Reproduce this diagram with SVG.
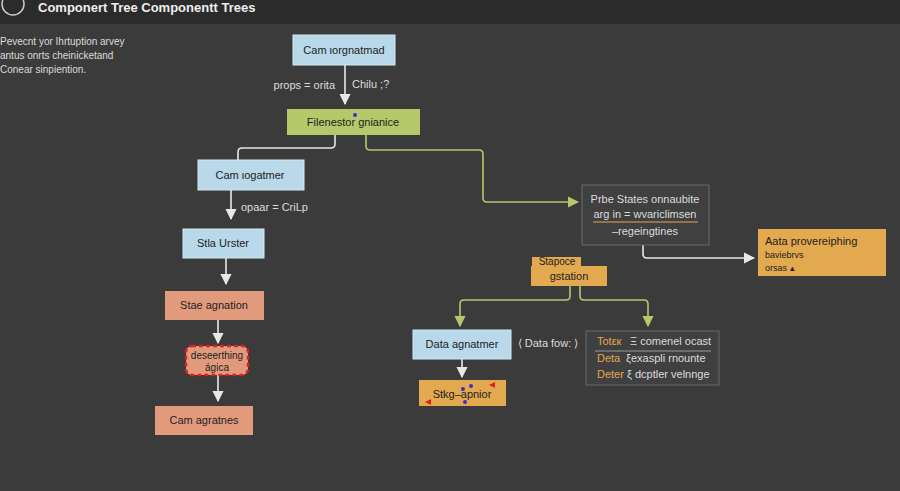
<svg xmlns="http://www.w3.org/2000/svg" width="900" height="491" viewBox="0 0 900 491">
<defs>
<marker id="aw" viewBox="0 0 10 10" refX="9" refY="5" markerWidth="7" markerHeight="7" orient="auto-start-reverse"><path d="M0,0 L10,5 L0,10 z" fill="#e8e8e8"/></marker>
<marker id="ag" viewBox="0 0 10 10" refX="9" refY="5" markerWidth="7" markerHeight="7" orient="auto-start-reverse"><path d="M0,0 L10,5 L0,10 z" fill="#b5c96a"/></marker>
<style>
text{font-family:"Liberation Sans",Arial,sans-serif;font-size:11px;fill:#222}
.lt{fill:#dcdcdc}
.blue{fill:#b9d9ea;stroke:#d6e8f2;stroke-width:1}
.sal{fill:#e29a7c}
.org{fill:#e3a94f}
.w{fill:none;stroke:#e8e8e8;stroke-width:1.6}
.g{fill:none;stroke:#b5c96a;stroke-width:1.6}
</style>
</defs>
<rect width="900" height="491" fill="#3b3b3b"/>
<rect width="900" height="24" fill="#2b2b2b"/>
<circle cx="13" cy="4" r="11" fill="none" stroke="#ccc" stroke-width="1.5"/>
<text x="38" y="12" style="font-size:13px;font-weight:bold;fill:#eee">Componert Tree Componentt Trees</text>
<text class="lt" x="0" y="45" style="font-size:10px">Pevecnt yor Ihrtuption arvey</text>
<text class="lt" x="0" y="59" style="font-size:10px">antus onrts cheinicketand</text>
<text class="lt" x="0" y="73" style="font-size:10px">Conear sinpiention.</text>
<g id="connectors">
<path class="w" d="M345,65 V104" marker-end="url(#aw)"/>
<path class="w" d="M335,135 V144 q0,4 -4,4 H242 q-4,0 -4,4 V160"/>
<path class="g" d="M366,135 V146 q0,4 4,4 H479 q4,0 4,4 V198 q0,4 4,4 H578" marker-end="url(#ag)"/>
<path class="w" d="M231,190 V219" marker-end="url(#aw)"/>
<path class="w" d="M226,258 V284" marker-end="url(#aw)"/>
<path class="w" d="M218,320 V343" marker-end="url(#aw)"/>
<path class="w" d="M218,375 V401" marker-end="url(#aw)"/>
<path class="w" d="M643,245 V254 q0,4 4,4 H754" marker-end="url(#aw)"/>
<path class="g" d="M570,286 V296 q0,4 -4,4 H464 q-4,0 -4,4 V326" marker-end="url(#ag)"/>
<path class="g" d="M580,286 V296 q0,4 4,4 H644 q4,0 4,4 V326" marker-end="url(#ag)"/>
<path class="w" d="M462,359 V377" marker-end="url(#aw)"/>
</g>
<text class="lt" x="335" y="89" text-anchor="end">props = orita</text>
<text class="lt" x="352" y="88">Chilu ;?</text>
<text class="lt" x="241" y="211">opaar = CriLp</text>
<g id="n1"><rect class="blue" x="293" y="35" width="102" height="30"/><text x="344" y="54" text-anchor="middle">Cam ιorgnatmad</text></g>
<g id="n2"><rect x="287" y="109" width="133" height="26" fill="#b5c96a"/><circle cx="355" cy="115" r="2" fill="#3333cc"/><text x="353" y="126" text-anchor="middle">Filenestor gnianice</text></g>
<g id="n3"><rect class="blue" x="198" y="160" width="106" height="30"/><text x="250" y="179" text-anchor="middle">Cam ιogatmer</text></g>
<g id="n4"><rect class="blue" x="183" y="229" width="81" height="29"/><text x="223" y="247" text-anchor="middle">Stla Urster</text></g>
<g id="n5"><rect class="sal" x="165" y="291" width="99" height="29"/><text x="214" y="309" text-anchor="middle">Stae agnation</text></g>
<g id="n6"><rect class="sal" x="186" y="346" width="62" height="29" rx="6" stroke="#e02020" stroke-width="2.5" stroke-dasharray="4,3"/><text x="217" y="359" text-anchor="middle" style="font-size:10px">deseerthing</text><text x="217" y="371" text-anchor="middle" style="font-size:10px">ágica</text></g>
<g id="n7"><rect class="sal" x="155" y="406" width="98" height="29"/><text x="204" y="424" text-anchor="middle">Cam agratnes</text></g>
<g id="n8"><rect x="582" y="185" width="127" height="60" fill="#404040" stroke="#6a6a6a"/><text class="lt" x="645" y="203" text-anchor="middle">Prbe States onnaubite</text><text class="lt" x="645" y="218" text-anchor="middle">arg in = wvariclimsen</text><line x1="593" y1="222" x2="698" y2="222" stroke="#e3a94f"/><text class="lt" x="645" y="235" text-anchor="middle">–regeingtines</text></g>
<g id="n9"><rect class="org" x="758" y="229" width="128" height="47"/><text x="765" y="245">Aata provereiphing</text><text x="765" y="258" style="font-size:9px">baviebrvs</text><text x="765" y="271" style="font-size:9px">orsas ▴</text></g>
<g id="n10"><rect class="org" x="532" y="257" width="49" height="10"/><rect class="org" x="531" y="266" width="76" height="20"/><text x="557" y="265" text-anchor="middle" style="font-size:10px">Stapoce</text><text x="569" y="280" text-anchor="middle">gstation</text></g>
<g id="n11"><rect class="blue" x="413" y="330" width="98" height="29"/><text x="462" y="348" text-anchor="middle">Data agnatmer</text></g>
<text class="lt" x="548" y="347" text-anchor="middle">⟨ Data fow: ⟩</text>
<g id="n12"><rect x="586" y="331" width="133" height="54" fill="#404040" stroke="#6a6a6a"/><text x="597" y="345" style="fill:#e3a94f">Totεк</text><text class="lt" x="630" y="345">Ξ comenel ocast</text><line x1="595" y1="351" x2="711" y2="351" stroke="#999"/><text x="597" y="362" style="fill:#e3a94f">Deta</text><text class="lt" x="626" y="362">ξexaspli rnounte</text><text x="597" y="378" style="fill:#e3a94f">Deter</text><text class="lt" x="627" y="378">ξ dcptler velnnge</text></g>
<g id="n13"><rect class="org" x="419" y="380" width="87" height="26"/><text x="462" y="398" text-anchor="middle">Stkg–apnior</text><circle cx="463" cy="389" r="2" fill="#3333cc"/><circle cx="471" cy="386" r="2" fill="#3333cc"/><circle cx="465" cy="402" r="2" fill="#3333cc"/><path d="M425,402 l6,-3 v6z M489,385 l6,-3 v6z" fill="#e02020"/></g>
</svg>
